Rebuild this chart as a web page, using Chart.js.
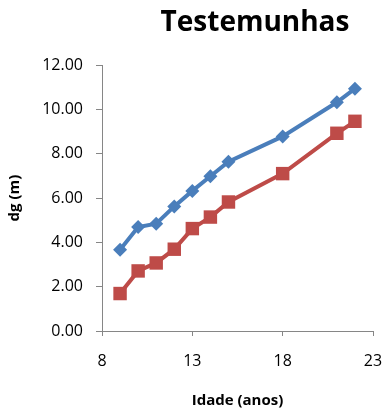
<!DOCTYPE html>
<html>
<head>
<meta charset="utf-8">
<script src="https://cdn.jsdelivr.net/npm/chart.js@4.4.1/dist/chart.umd.min.js"></script>
<style>
  html, body { margin: 0; padding: 0; background: #ffffff; }
  #wrap { width: 387px; height: 416px; position: relative; }
</style>
</head>
<body>
<div id="wrap"><canvas id="c" width="387" height="416"></canvas></div>
<script>
// Idade (anos) of each measurement
const ages = [9, 10, 11, 12, 13, 14, 15, 18, 21, 22];
// dg (m) for the two series
const seriesBlue = [3.67, 4.69, 4.84, 5.62, 6.32, 6.98, 7.64, 8.78, 10.32, 10.93];
const seriesRed  = [1.69, 2.71, 3.07, 3.69, 4.62, 5.14, 5.82, 7.10, 8.92, 9.46];
// axis ranges and tick steps
const xTicks = [8, 13, 18, 23];
const yTicks = [0, 2, 4, 6, 8, 10, 12];

const chartTitle = 'Testemunhas';
const FONT = "'Open Sans', 'Liberation Sans', sans-serif";
const AXIS = '#868686';

function toPoints(ys) {
  return ages.map((x, i) => ({ x: x, y: ys[i] }));
}

// Draws the chart heading above the plot
const headingPlugin = {
  id: 'heading',
  afterDraw(chart) {
    const ctx = chart.ctx;
    ctx.save();
    ctx.fillStyle = '#000000';
    ctx.font = "bold 28px " + FONT;
    ctx.textAlign = 'center';
    ctx.textBaseline = 'alphabetic';
    ctx.fillText(chartTitle, 255, 31);
    ctx.restore();
  }
};

new Chart(document.getElementById('c'), {
  type: 'scatter',
  data: {
    datasets: [
      {
        data: toPoints(seriesBlue),
        showLine: true,
        borderColor: '#4a7ebb',
        backgroundColor: '#4a7ebb',
        borderWidth: 4,
        pointStyle: 'rectRot',
        pointRadius: 7,
        pointBorderWidth: 0,
        pointHoverRadius: 7
      },
      {
        data: toPoints(seriesRed),
        showLine: true,
        borderColor: '#be4b48',
        backgroundColor: '#be4b48',
        borderWidth: 4,
        pointStyle: 'rect',
        pointRadius: 9.5,
        pointBorderWidth: 0,
        pointHoverRadius: 9.5
      }
    ]
  },
  options: {
    responsive: false,
    animation: false,
    devicePixelRatio: 1,
    layout: { padding: { top: 65, right: 14, left: 0, bottom: 0 } },
    plugins: {
      legend: { display: false },
      title: { display: false },
      tooltip: { enabled: false }
    },
    scales: {
      x: {
        type: 'linear',
        min: xTicks[0],
        max: xTicks[xTicks.length - 1],
        afterBuildTicks(scale) { scale.ticks = xTicks.map(v => ({ value: v })); },
        afterFit(scale) {
          scale.height = 85;
          scale.paddingLeft = 0;
          scale.paddingRight = 0;
        },
        grid: { drawOnChartArea: false, drawTicks: true, tickLength: 5, color: AXIS },
        border: { color: AXIS, width: 1 },
        ticks: {
          color: '#000000',
          font: { family: FONT, size: 16 },
          padding: 16,
          maxRotation: 0,
          callback: v => String(v)
        },
        title: {
          display: true,
          text: 'Idade (anos)',
          color: '#000000',
          font: { family: FONT, size: 15, weight: 'bold' },
          padding: { top: 0, bottom: 6 }
        }
      },
      y: {
        type: 'linear',
        min: yTicks[0],
        max: yTicks[yTicks.length - 1],
        afterBuildTicks(scale) { scale.ticks = yTicks.map(v => ({ value: v })); },
        afterFit(scale) { scale.width = 102; },
        grid: { drawOnChartArea: false, drawTicks: true, tickLength: 6, color: AXIS },
        border: { color: AXIS, width: 1 },
        ticks: {
          color: '#000000',
          font: { family: FONT, size: 16 },
          padding: 13,
          callback: v => Number(v).toFixed(2)
        },
        title: {
          display: true,
          text: 'dg (m)',
          color: '#000000',
          font: { family: FONT, size: 15, weight: 'bold' },
          padding: { top: 6, bottom: 0 }
        }
      }
    }
  },
  plugins: [headingPlugin]
});
</script>
</body>
</html>
